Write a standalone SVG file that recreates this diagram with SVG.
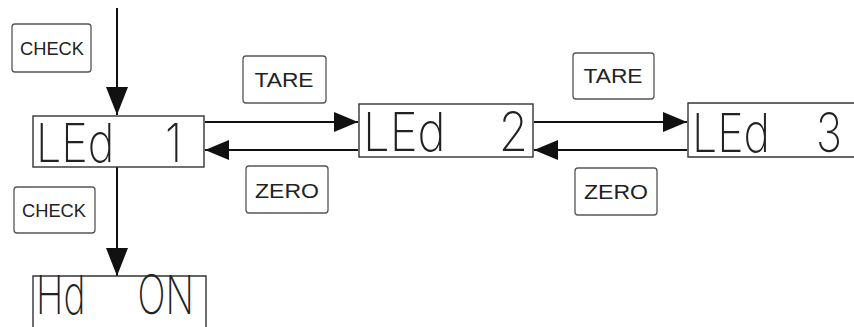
<svg xmlns="http://www.w3.org/2000/svg" width="854" height="327" viewBox="0 0 854 327">
<style>
.lbl{fill:#fff;stroke:#555;stroke-width:1.3}
.lbt{font-family:"Liberation Sans",Arial,sans-serif;fill:#222;text-anchor:middle}
.disp{fill:#fff;stroke:#333;stroke-width:1.4}
.dt{font-family:Inter,"DejaVu Sans",sans-serif;font-weight:200;font-size:54px;fill:#222}
.ln{stroke:#111;stroke-width:2;fill:none}
</style>
<defs>
<marker id="ah" viewBox="0 0 24 20" markerWidth="24" markerHeight="20" refX="24" refY="10" orient="auto" markerUnits="userSpaceOnUse"><path d="M0,0 L24,10 L0,20 Z" fill="#111"/></marker>
<marker id="ahv" viewBox="0 0 28 22" markerWidth="28" markerHeight="22" refX="28" refY="11" orient="auto" markerUnits="userSpaceOnUse"><path d="M0,0 L28,11 L0,22 Z" fill="#111"/></marker>
</defs>
<g id="connectors">
<line class="ln" x1="117" y1="8" x2="117" y2="115" marker-end="url(#ahv)"/>
<line class="ln" x1="117" y1="167" x2="117" y2="276" marker-end="url(#ahv)"/>
<line class="ln" x1="205" y1="122" x2="358" y2="122" marker-end="url(#ah)"/>
<line class="ln" x1="358" y1="150" x2="205" y2="150" marker-end="url(#ah)"/>
<line class="ln" x1="534" y1="122" x2="687" y2="122" marker-end="url(#ah)"/>
<line class="ln" x1="687" y1="150" x2="534" y2="150" marker-end="url(#ah)"/>
</g>
<g id="check1"><rect class="lbl" x="12" y="24" width="79" height="48" rx="3"/><text class="lbt" x="52" y="55" font-size="18" textLength="64" lengthAdjust="spacingAndGlyphs">CHECK</text></g>
<g id="check2"><rect class="lbl" x="14" y="187" width="81" height="46" rx="3"/><text class="lbt" x="54" y="217" font-size="18" textLength="64" lengthAdjust="spacingAndGlyphs">CHECK</text></g>
<g id="tare1"><rect class="lbl" x="243" y="56" width="83" height="47" rx="3"/><text class="lbt" x="284" y="87" font-size="20" textLength="59" lengthAdjust="spacingAndGlyphs">TARE</text></g>
<g id="tare2"><rect class="lbl" x="573" y="53" width="81" height="46" rx="3"/><text class="lbt" x="613" y="83" font-size="20" textLength="59" lengthAdjust="spacingAndGlyphs">TARE</text></g>
<g id="zero1"><rect class="lbl" x="246" y="166" width="82" height="47" rx="3"/><text class="lbt" x="287" y="198" font-size="20" textLength="64" lengthAdjust="spacingAndGlyphs">ZERO</text></g>
<g id="zero2"><rect class="lbl" x="575" y="168" width="82" height="47" rx="3"/><text class="lbt" x="616" y="199" font-size="20" textLength="64" lengthAdjust="spacingAndGlyphs">ZERO</text></g>
<g id="led1"><rect class="disp" x="33" y="116" width="171" height="51"/><text class="dt" x="36" y="162" textLength="146" lengthAdjust="spacingAndGlyphs" xml:space="preserve">LEd    1</text></g>
<g id="led2"><rect class="disp" x="359" y="104" width="174" height="53"/><text class="dt" x="363" y="151" textLength="165" lengthAdjust="spacingAndGlyphs" xml:space="preserve">LEd    2</text></g>
<g id="led3"><path class="disp" d="M854,103 H688 V157 H854"/><text class="dt" x="692" y="152" textLength="78" lengthAdjust="spacingAndGlyphs">LEd</text><text class="dt" x="816" y="152" textLength="26" lengthAdjust="spacingAndGlyphs">3</text></g>
<g id="hdon"><path class="disp" d="M33,327 V276 H206 V327"/><text class="dt" x="36" y="314" font-size="48" textLength="158" lengthAdjust="spacingAndGlyphs" xml:space="preserve">Hd     ON</text></g>
</svg>
